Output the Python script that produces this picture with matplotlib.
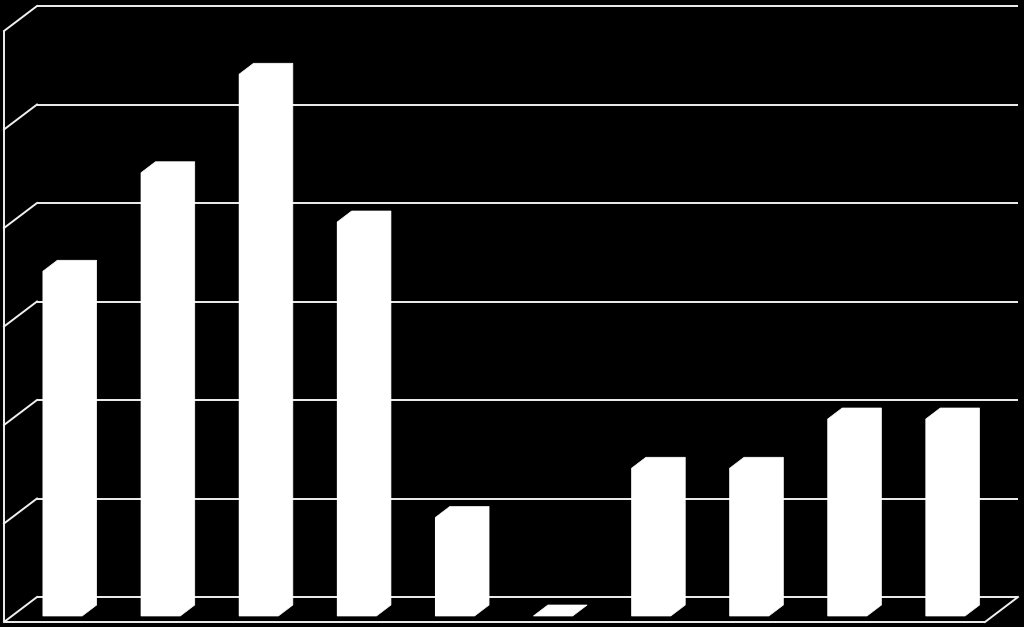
import numpy as np
import matplotlib
matplotlib.use('Agg')
import matplotlib.pyplot as plt
import matplotlib.transforms as mtransforms
from matplotlib.patches import Polygon
from matplotlib.lines import Line2D

# ---- data ----
categories = ['1', '2', '3', '4', '5', '6', '7', '8', '9', '10']
values = [7, 9, 11, 8, 2, 0, 3, 3, 4, 4]
y_ticks = [0, 2, 4, 6, 8, 10, 12]

# ---- figure ----
W, H, DPI = 1024, 627, 100
fig = plt.figure(figsize=(W / DPI, H / DPI), dpi=DPI, facecolor='black')
ax = fig.add_axes([12 / W, 11 / H, 981 / W, 591 / H])
ax.set_facecolor('black')
ax.axis('off')

x = np.arange(len(categories))
xmin, xmax = -0.515, len(categories) - 0.515
ax.set_xlim(xmin, xmax)
ax.set_ylim(y_ticks[0], y_ticks[-1])

LINE_C = '#f0f0f0'
LW = 1.4


def shifted(dx, dy):
    return ax.transData + mtransforms.ScaledTranslation(dx / DPI, dy / DPI, fig.dpi_scale_trans)


t_back = shifted(25, 19)      # back wall plane
t_front = shifted(-8, -6)     # front edge of floor / left wall
t_bar_back = shifted(14.5, 11)  # back face of bars
ident = mtransforms.IdentityTransform()

# back wall gridlines
ax.hlines(y_ticks, xmin, xmax, transform=t_back, colors=LINE_C, lw=LW,
          clip_on=False, zorder=1)
# left wall diagonals
for yv in y_ticks:
    p1 = t_front.transform((xmin, yv))
    p2 = t_back.transform((xmin, yv))
    ax.add_line(Line2D([p1[0], p2[0]], [p1[1], p2[1]], transform=ident,
                       color=LINE_C, lw=LW, clip_on=False, zorder=1))
# left wall front edge
ax.vlines([xmin], y_ticks[0], y_ticks[-1], transform=t_front, colors=LINE_C,
          lw=LW, clip_on=False, zorder=1)
# floor front edge and right diagonal
ax.hlines([y_ticks[0]], xmin, xmax, transform=t_front, colors=LINE_C, lw=LW,
          clip_on=False, zorder=1)
p1 = t_front.transform((xmax, y_ticks[0]))
p2 = t_back.transform((xmax, y_ticks[0]))
ax.add_line(Line2D([p1[0], p2[0]], [p1[1], p2[1]], transform=ident,
                   color=LINE_C, lw=LW, clip_on=False, zorder=1))

# bars
bw = 0.4
ax.bar(x, values, width=bw, color='white', edgecolor='none', zorder=3)
for xi, v in zip(x, values):
    x0, x1 = xi - bw / 2, xi + bw / 2
    pts = [t_front.transform((0, 0))]  # placeholder replaced below
    pts = [
        ax.transData.transform((x0, 0)),
        ax.transData.transform((x1, 0)),
        t_bar_back.transform((x1, 0)),
        t_bar_back.transform((x1, v)),
        t_bar_back.transform((x0, v)),
        ax.transData.transform((x0, v)),
    ]
    ax.add_patch(Polygon(pts, closed=True, transform=ident, facecolor='white',
                         edgecolor='white', lw=0.5, clip_on=False, zorder=3))

fig.savefig('out.png', dpi=DPI, facecolor='black')
